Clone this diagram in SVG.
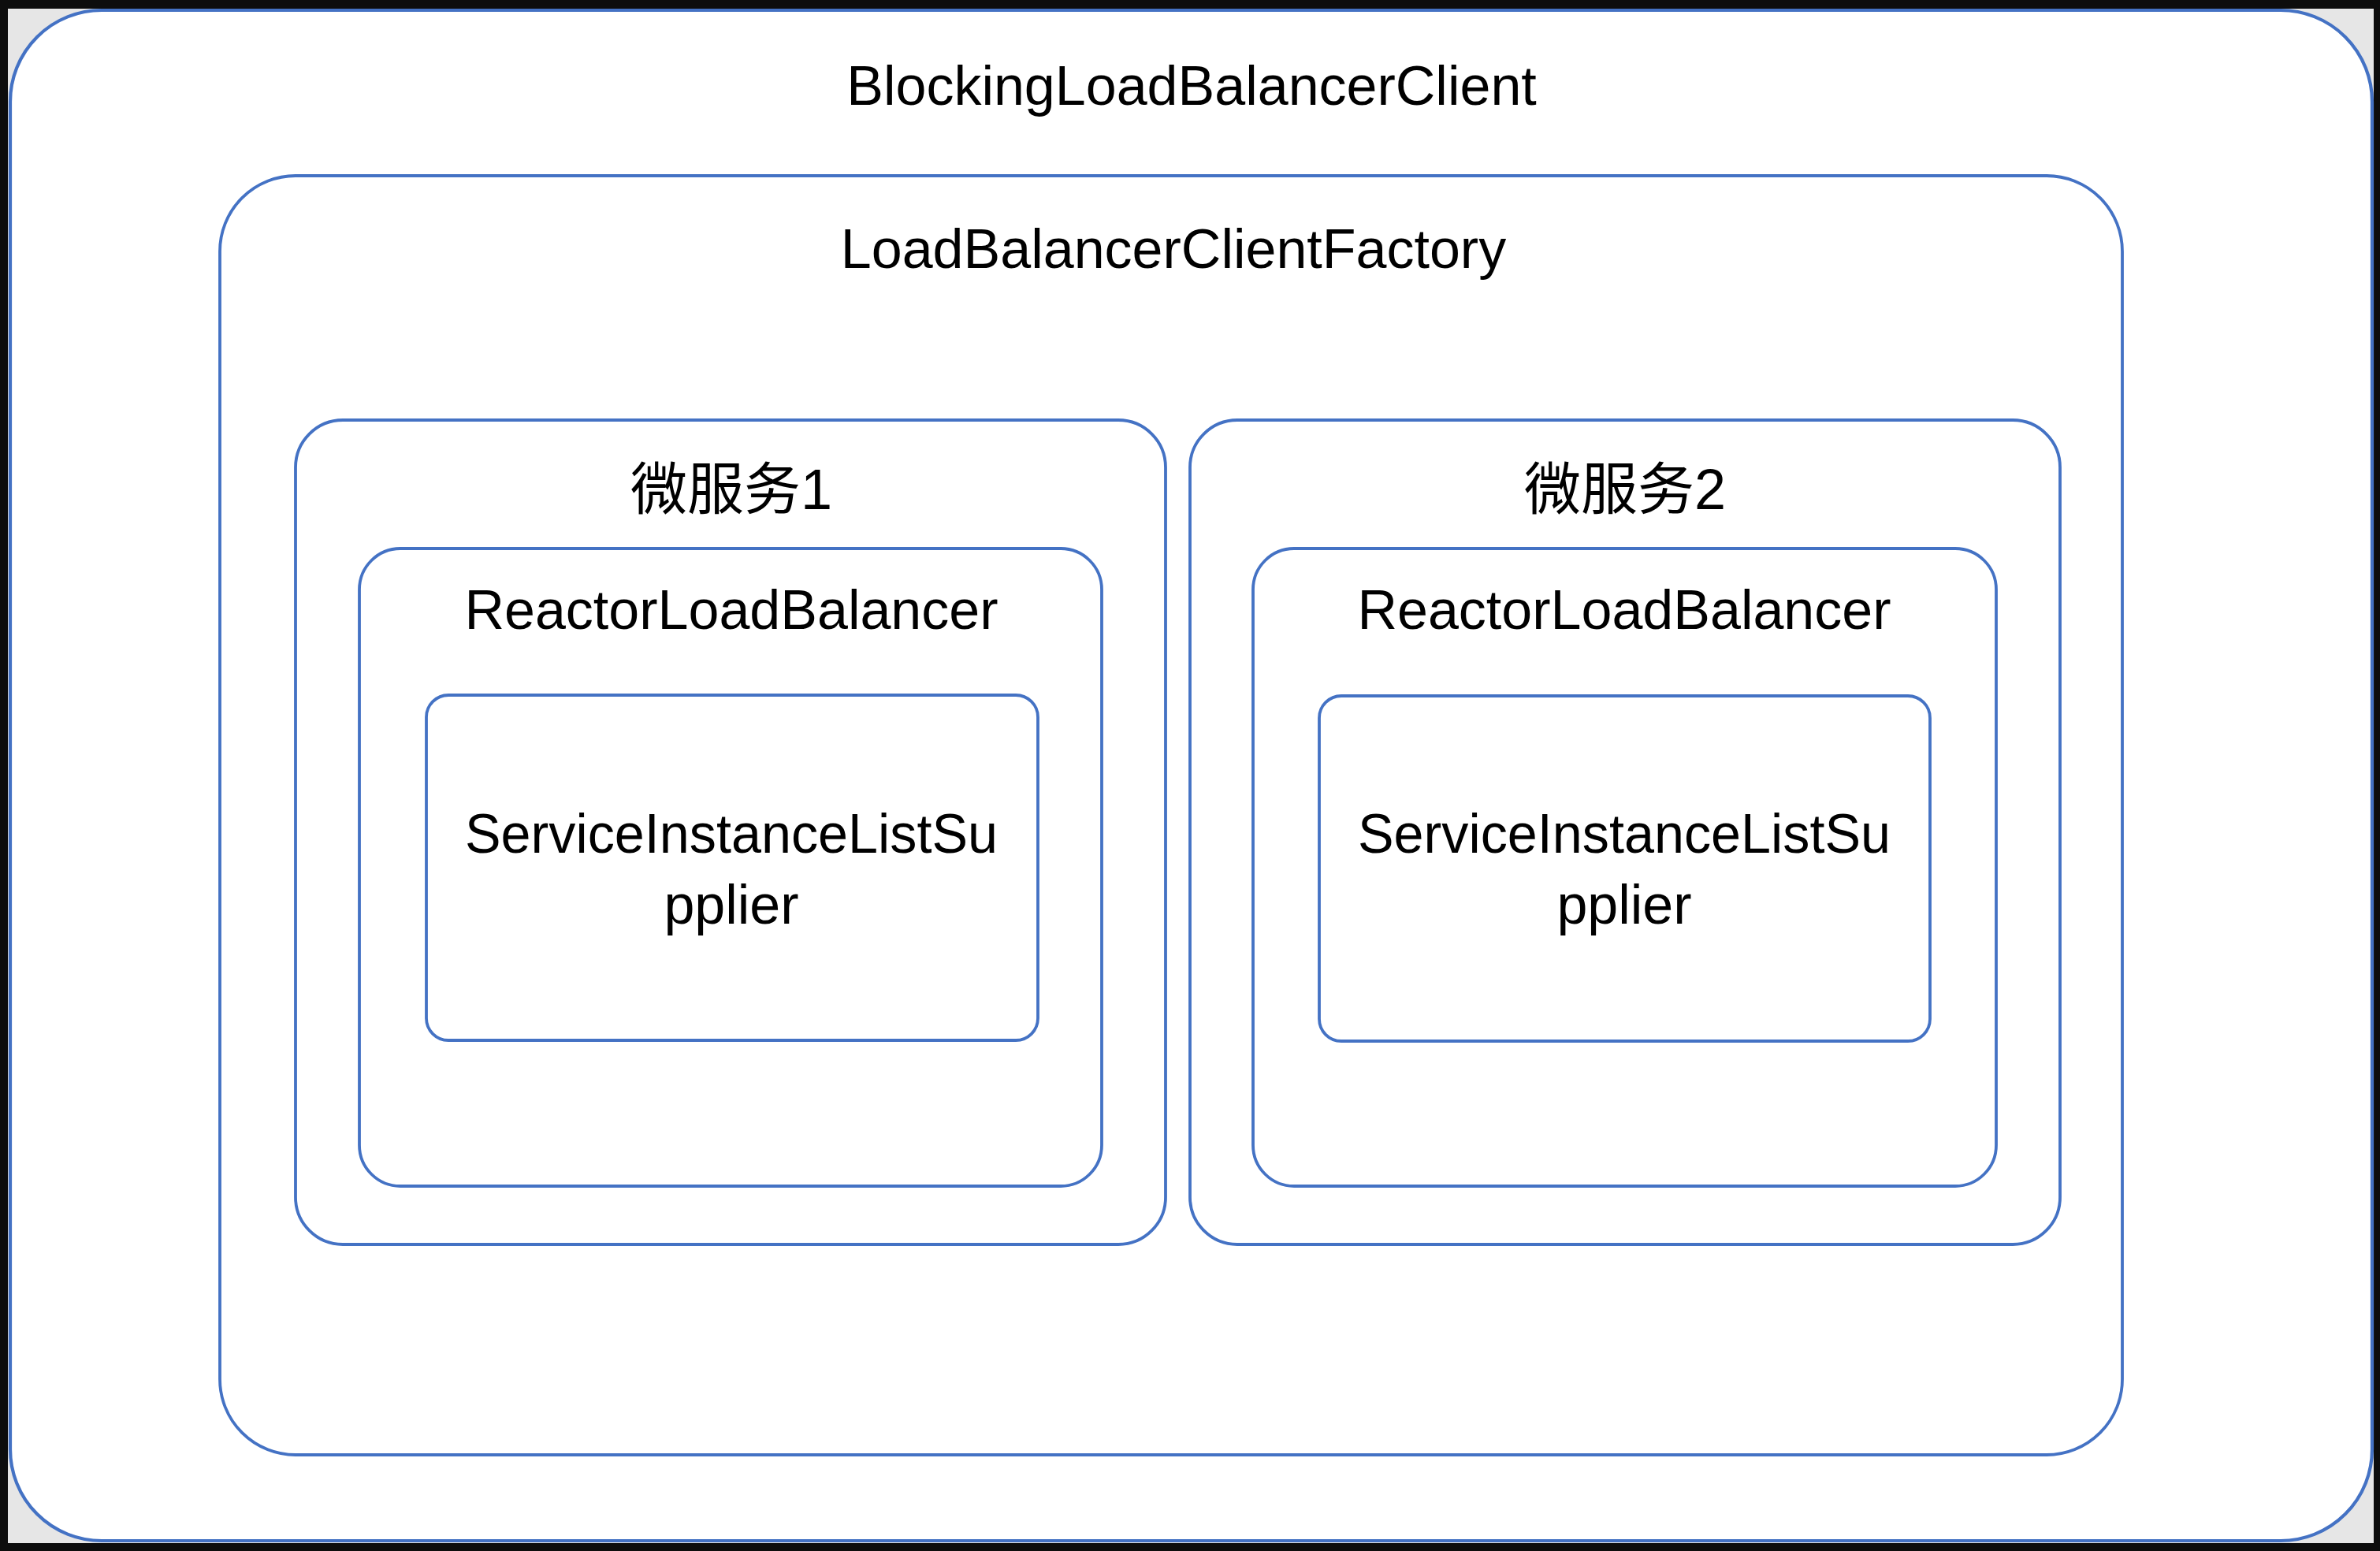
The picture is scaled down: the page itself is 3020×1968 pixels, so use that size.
<svg xmlns="http://www.w3.org/2000/svg" width="3020" height="1968" viewBox="0 0 3020 1968">
<style>
.box{fill:#ffffff;stroke:#4472c4;stroke-width:3.8}
.outer{stroke-width:4.2}
.t{font-family:"Liberation Sans","Noto Sans CJK SC",sans-serif;font-size:70px;fill:#000000;text-anchor:middle}
.cjk{font-size:72px}
</style>
<rect x="0" y="0" width="3020" height="1968" fill="#0d0d0d"/>
<rect x="10" y="11" width="3002" height="1947" fill="#e6e6e6"/>
<g id="blockingLoadBalancerClient">
<rect class="box outer" x="13" y="13" width="2997" height="1942" rx="116" ry="116"/>
<text class="t" x="1512" y="133">BlockingLoadBalancerClient</text>
</g>
<g id="loadBalancerClientFactory">
<rect class="box" x="279" y="223" width="2414" height="1623" rx="96" ry="96"/>
<text class="t" x="1489" y="340">LoadBalancerClientFactory</text>
</g>
<g id="microservice1">
<rect class="box" x="375" y="533" width="1104" height="1046" rx="60" ry="60"/>
<text class="t cjk" x="928" y="646">微服务1</text>
</g>
<g id="reactor1">
<rect class="box" x="456" y="696" width="942" height="809" rx="52" ry="52"/>
<text class="t" x="928" y="798">ReactorLoadBalancer</text>
</g>
<g id="supplier1">
<rect class="box" x="541" y="882" width="776" height="438" rx="28" ry="28"/>
<text class="t" x="928" y="1082" textLength="676" lengthAdjust="spacingAndGlyphs">ServiceInstanceListSu</text>
<text class="t" x="928" y="1172">pplier</text>
</g>
<g id="microservice2">
<rect class="box" x="1510" y="533" width="1104" height="1046" rx="60" ry="60"/>
<text class="t cjk" x="2062" y="646">微服务2</text>
</g>
<g id="reactor2">
<rect class="box" x="1590" y="696" width="943" height="809" rx="52" ry="52"/>
<text class="t" x="2061" y="798">ReactorLoadBalancer</text>
</g>
<g id="supplier2">
<rect class="box" x="1674" y="883" width="775" height="438" rx="28" ry="28"/>
<text class="t" x="2061" y="1082" textLength="676" lengthAdjust="spacingAndGlyphs">ServiceInstanceListSu</text>
<text class="t" x="2061" y="1172">pplier</text>
</g>
<g id="connectors"></g>
</svg>
